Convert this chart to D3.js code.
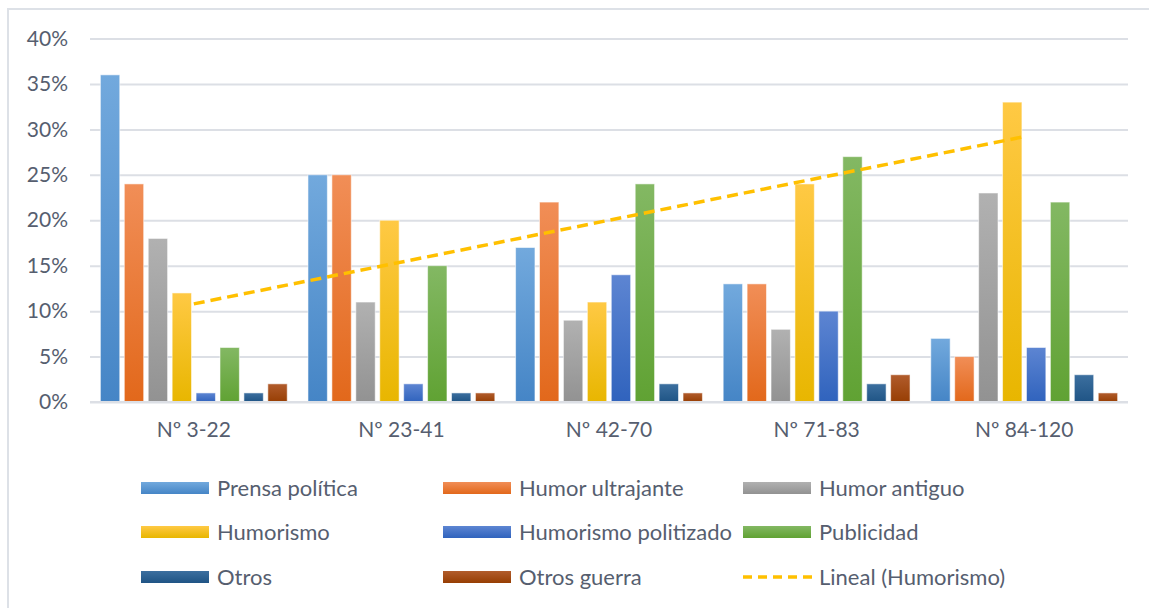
<!DOCTYPE html>
<html>
<head>
<meta charset="utf-8">
<script src="https://cdn.jsdelivr.net/npm/d3@7"></script>
<style>
  html, body { margin: 0; padding: 0; background: #fff; }
  svg { display: block; }
  text { font-family: Lato, "Liberation Sans", sans-serif; fill: #565e6f; }
</style>
</head>
<body>
<svg id="chart" width="1149" height="608"></svg>
<script>
// ---- Data ----
const categories = ["Nº 3-22", "Nº 23-41", "Nº 42-70", "Nº 71-83", "Nº 84-120"];
const seriesNames = ["Prensa política", "Humor ultrajante", "Humor antiguo", "Humorismo",
                     "Humorismo politizado", "Publicidad", "Otros", "Otros guerra"];
const prensaPolitica      = [36, 25, 17, 13, 7];
const humorUltrajante     = [24, 25, 22, 13, 5];
const humorAntiguo        = [18, 11, 9, 8, 23];
const humorismo           = [12, 20, 11, 24, 33];
const humorismoPolitizado = [1, 2, 14, 10, 6];
const publicidad          = [6, 15, 24, 27, 22];
const otros               = [1, 1, 2, 2, 3];
const otrosGuerra         = [2, 1, 1, 3, 1];
const yTicks = [0, 5, 10, 15, 20, 25, 30, 35, 40];
const trendLabel = "Lineal (Humorismo)";

const seriesValues = [prensaPolitica, humorUltrajante, humorAntiguo, humorismo,
                      humorismoPolitizado, publicidad, otros, otrosGuerra];
const colors = [
  ["#72a9dd", "#4585c6"],
  ["#f18e57", "#e2681b"],
  ["#b1b1b1", "#929292"],
  ["#ffc944", "#e8b600"],
  ["#5d85d2", "#3063bd"],
  ["#83b863", "#60a233"],
  ["#3c6f9f", "#1f5485"],
  ["#b15c2c", "#973e03"]
];

const svg = d3.select("#chart");
const W = 1149, H = 608;
const FONT = "Lato, 'Liberation Sans', sans-serif";

// border
svg.append("rect").attr("x", 8).attr("y", 9).attr("width", W + 10).attr("height", H + 10)
  .attr("fill", "#fff").attr("stroke", "#dde1e7").attr("stroke-width", 2);

const plotLeft = 90, plotRight = 1128, plotTop = 38.5, plotBottom = 402;

const x0 = d3.scaleBand().domain(categories).range([plotLeft, plotRight])
  .paddingInner(0.1).paddingOuter(0.05);
const x1 = d3.scaleBand().domain(seriesNames).range([0, x0.bandwidth()])
  .paddingInner(0.19).paddingOuter(0);
const y = d3.scaleLinear().domain([0, 40]).range([plotBottom, plotTop]);

// gradients
const defs = svg.append("defs");
colors.forEach((c, i) => {
  const g = defs.append("linearGradient").attr("id", "g" + i)
    .attr("x1", 0).attr("y1", 0).attr("x2", 0).attr("y2", 1);
  g.append("stop").attr("offset", "0%").attr("stop-color", c[0]);
  g.append("stop").attr("offset", "100%").attr("stop-color", c[1]);
});

// gridlines
const yAxis = d3.axisLeft(y).tickValues(yTicks).tickSize(-(plotRight - plotLeft))
  .tickFormat(d => d + "%").tickPadding(22);
const ga = svg.append("g").attr("transform", `translate(${plotLeft},0)`).call(yAxis);
ga.select(".domain").remove();
ga.selectAll(".tick line").attr("stroke", "#dcdfe5").attr("stroke-width", 2);
ga.selectAll(".tick text").attr("font-size", 21).style("font-family", FONT)
  .attr("fill", "#565e6f");

// bars
const groups = svg.append("g").selectAll("g").data(categories).join("g")
  .attr("transform", d => `translate(${x0(d)},0)`);
groups.selectAll("rect")
  .data((c, ci) => seriesNames.map((s, si) => ({ s, si, v: seriesValues[si][ci] })))
  .join("rect")
  .attr("x", d => x1(d.s))
  .attr("width", x1.bandwidth())
  .attr("y", d => y(d.v))
  .attr("height", d => y(0) - y(d.v))
  .attr("fill", d => `url(#g${d.si})`)
  .attr("stroke", "rgba(255,255,255,0.55)")
  .attr("stroke-width", 1);

// x axis
const xAxis = d3.axisBottom(x0).tickSize(0).tickPadding(20);
const gx = svg.append("g").attr("transform", `translate(0,${plotBottom})`).call(xAxis);
gx.select(".domain").remove();
gx.selectAll(".tick text").attr("font-size", 21).style("font-family", FONT)
  .attr("fill", "#565e6f");
svg.append("line").attr("x1", plotLeft).attr("x2", plotRight)
  .attr("y1", y(0)).attr("y2", y(0)).attr("stroke", "#dcdfe5").attr("stroke-width", 2);

// linear trendline (least squares on humorismo)
const n = humorismo.length;
const xs = d3.range(1, n + 1);
const mx = d3.mean(xs), my = d3.mean(humorismo);
const slope = d3.sum(xs.map((xv, i) => (xv - mx) * (humorismo[i] - my))) /
              d3.sum(xs.map(xv => (xv - mx) ** 2));
const intercept = my - slope * mx;
const trendPts = [1, n].map(xv => [x0(categories[xv - 1]) + x0.bandwidth() / 2, y(intercept + slope * xv)]);
svg.append("path").attr("d", d3.line()(trendPts))
  .attr("fill", "none").attr("stroke", "#ffc000").attr("stroke-width", 3.5)
  .attr("stroke-dasharray", "11 6");

// legend
const legendItems = seriesNames.map((s, i) => ({ name: s, type: "bar", i }))
  .concat([{ name: trendLabel, type: "line" }]);
const colX = [141, 443, 743];
const rowY = [488, 532, 577];
const lg = svg.append("g");
legendItems.forEach((d, k) => {
  const cx = colX[k % 3], cy = rowY[Math.floor(k / 3)];
  if (d.type === "bar") {
    lg.append("rect").attr("x", cx).attr("y", cy - 6).attr("width", 68).attr("height", 12)
      .attr("fill", `url(#g${d.i})`);
  } else {
    lg.append("line").attr("x1", cx).attr("x2", cx + 69).attr("y1", cy).attr("y2", cy)
      .attr("stroke", "#ffc000").attr("stroke-width", 3.5).attr("stroke-dasharray", "9 6");
  }
  lg.append("text").attr("x", cx + 76).attr("y", cy).attr("dy", "0.35em")
    .attr("font-size", 22).text(d.name);
});
</script>
</body>
</html>
